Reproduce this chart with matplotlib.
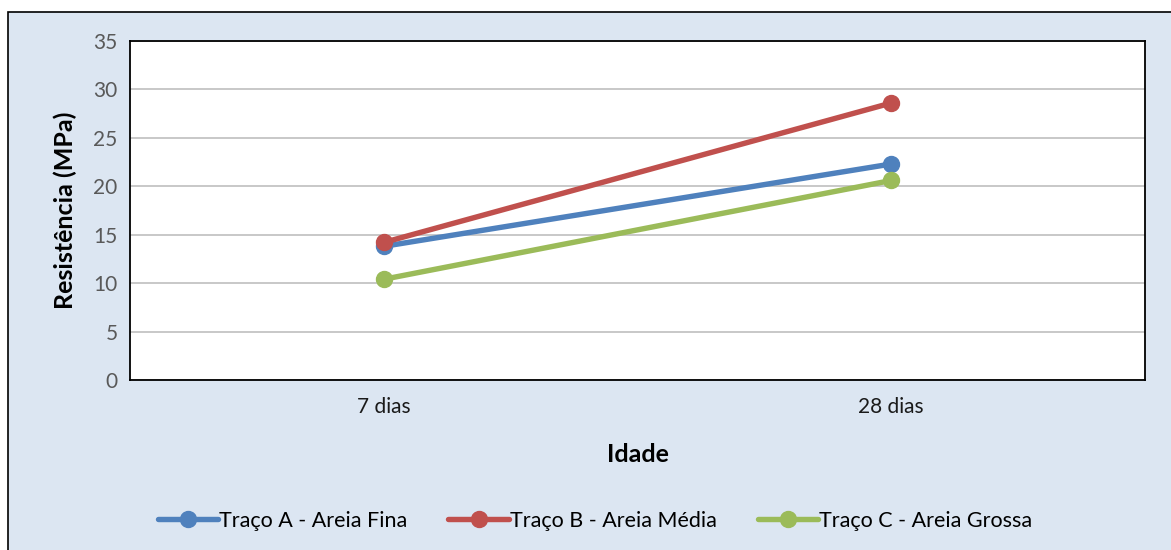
import matplotlib.pyplot as plt
from matplotlib.patches import Rectangle

categories = ['7 dias', '28 dias']
traco_a = [13.8, 22.3]
traco_b = [14.2, 28.6]
traco_c = [10.4, 20.6]
series_names = ['Traço A - Areia Fina', 'Traço B - Areia Média', 'Traço C - Areia Grossa']
colors = ['#4F81BD', '#C0504D', '#9BBB59']
yticks = [0, 5, 10, 15, 20, 25, 30, 35]

plt.rcParams['font.family'] = ['Lato', 'DejaVu Sans']

fig = plt.figure(figsize=(11.71, 5.5), dpi=100)
W, H = 1171, 550

# fundo azul claro com borda preta
fig.patches.append(Rectangle((8 / W, -0.01), 1.02 - 8 / W, 1.01 - 12 / H, transform=fig.transFigure,
                             facecolor='#DCE6F2', edgecolor='black', linewidth=1.2, zorder=-10))

ax = fig.add_axes([130 / W, 1 - 380 / H, (1145 - 130) / W, (380 - 41) / H])
ax.set_facecolor('white')

x = range(len(categories))
for vals, name, c in zip([traco_a, traco_b, traco_c], series_names, colors):
    ax.plot(x, vals, color=c, lw=3.9, marker='o', markersize=11.5, label=name,
            solid_capstyle='round', zorder=3)

ax.set_xlim(-0.5, 1.5)
ax.set_ylim(0, 35)
ax.set_yticks(yticks)
ax.set_xticks(list(x))
ax.set_xticklabels(categories)
ax.grid(axis='y', color='#BFBFBF', lw=1.2)
ax.set_axisbelow(True)
for s in ax.spines.values():
    s.set_color('black')
    s.set_linewidth(1.3)
ax.tick_params(axis='y', length=0, labelsize=15, labelcolor='#595959', pad=9)
ax.tick_params(axis='x', length=0, labelsize=15, labelcolor='#1a1a1a', pad=12)

ax.set_ylabel('Resistência (MPa)', fontsize=18, fontweight='bold', labelpad=12)
ax.set_xlabel('Idade', fontsize=18, fontweight='bold', labelpad=19)

fig.legend(loc='center', bbox_to_anchor=(595 / W, 1 - 521 / H), ncol=3, frameon=False,
           fontsize=15.5, handlelength=2.8, columnspacing=1.9, handletextpad=0.05,
           markerscale=1.0)

fig.savefig('out.png', dpi=100)
